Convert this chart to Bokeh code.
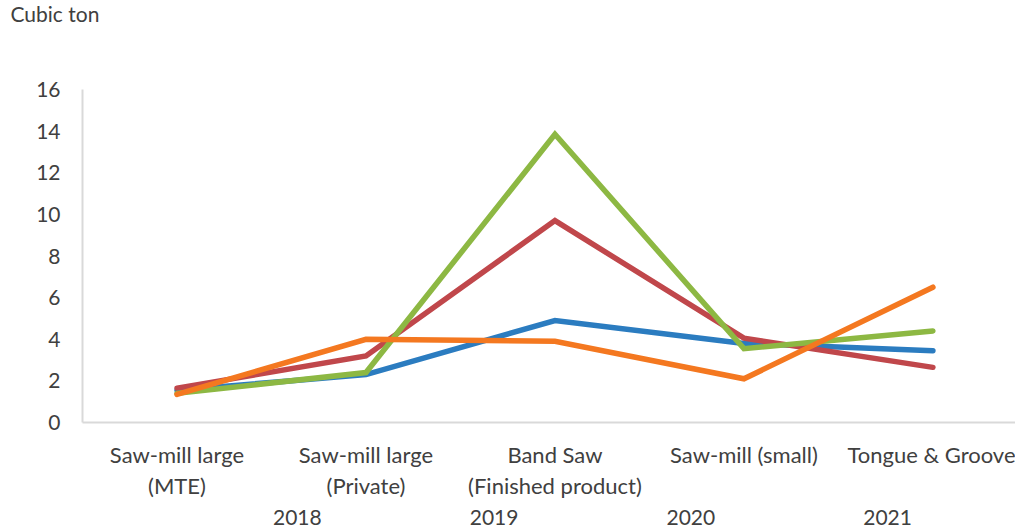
from bokeh.plotting import figure
from bokeh.layouts import column
from bokeh.models import Range1d, FixedTicker, Legend, LegendItem
from bokeh.embed import file_html
from bokeh.resources import INLINE

# Production by mill type, cubic ton
categories = [
    "Saw-mill large\n(MTE)",
    "Saw-mill large\n(Private)",
    "Band Saw\n(Finished product)",
    "Saw-mill (small)",
    "Tongue & Groove",
]
years = ["2018", "2019", "2020", "2021"]
v2018 = [1.55, 2.3, 4.9, 3.8, 3.45]
v2019 = [1.65, 3.2, 9.7, 4.05, 2.65]
v2020 = [1.4, 2.4, 13.85, 3.55, 4.4]
v2021 = [1.35, 4.0, 3.9, 2.1, 6.5]
y_ticks = [0, 2, 4, 6, 8, 10, 12, 14, 16]

series = [v2018, v2019, v2020, v2021]
colors = ["#2b7cc0", "#c0474b", "#8db843", "#f47820"]

FONT = "Lato"
TEXT_COLOR = "#404040"
LINE_W = 5.5
W = 1015
LEFT = 82          # width of the y-axis border; the strips share it


def strip(height, title):
    fig = figure(width=W, height=height, output_backend="svg", toolbar_location=None,
                 x_axis_location=None, y_axis_location=None, title=title,
                 x_range=Range1d(0, 1), y_range=Range1d(0, 1))
    fig.outline_line_color = None
    fig.grid.visible = False
    fig.min_border = 0
    return fig


# --- caption strip: "Cubic ton" -------------------------------------------
top = strip(40, "Cubic ton")
top.min_border_top = 5
top.title.align = "left"
top.title.offset = 10 - LEFT
top.title.vertical_align = "top"
top.title.standoff = 0
top.title.text_font = FONT
top.title.text_font_size = "21px"
top.title.text_font_style = "normal"
top.title.text_color = TEXT_COLOR

# --- main chart -----------------------------------------------------------
# category centres sit at 0.5, 1.5, ...; the right end is cut short
x_pos = [i + 0.5 for i in range(len(categories))]

p = figure(
    width=W, height=464,
    output_backend="svg", toolbar_location=None,
    x_range=Range1d(0, 4.937), y_range=Range1d(0, 16),
    min_border_left=LEFT, min_border_right=0,
    min_border_top=49, min_border_bottom=82,
)
p.outline_line_color = None
p.xgrid.grid_line_color = None
p.ygrid.grid_line_color = None

for vals, col in zip(series, colors):
    p.line(x_pos, vals, line_color=col, line_width=LINE_W,
           line_join="miter", line_cap="round")

xa = p.xaxis[0]
xa.ticker = FixedTicker(ticks=x_pos)
xa.major_label_overrides = {x: c for x, c in zip(x_pos, categories)}
xa.axis_line_color = "#d9d9d9"
xa.axis_line_width = 2
xa.major_tick_line_color = None
xa.minor_tick_line_color = None
xa.major_label_standoff = 12
xa.major_label_text_font = FONT
xa.major_label_text_font_size = "22px"
xa.major_label_text_color = TEXT_COLOR
xa.major_label_text_line_height = 1.15

ya = p.yaxis[0]
ya.ticker = FixedTicker(ticks=y_ticks)
ya.axis_line_color = "#d9d9d9"
ya.axis_line_width = 2
ya.major_tick_line_color = None
ya.minor_tick_line_color = None
ya.major_label_standoff = 16
ya.major_label_text_font = FONT
ya.major_label_text_font_size = "21px"
ya.major_label_text_color = TEXT_COLOR

# --- legend strip ---------------------------------------------------------
# a tuple location gives the legend's bottom-left corner inside the strip
bottom = strip(25, None)
keys = [bottom.line([], [], line_color=col, line_width=LINE_W, line_cap="round")
        for col in colors]
legend = Legend(
    items=[LegendItem(label=y, renderers=[r]) for y, r in zip(years, keys)],
    orientation="horizontal", location=(215 - LEFT, 0),
    glyph_width=55, glyph_height=16, label_standoff=3, spacing=90,
    padding=0, margin=0, border_line_color=None, background_fill_alpha=0,
    label_text_font=FONT, label_text_font_size="21px",
    label_text_color=TEXT_COLOR,
)
bottom.add_layout(legend)

page = column(top, p, bottom, spacing=0)
open("out.html", "w").write(file_html(page, INLINE))
